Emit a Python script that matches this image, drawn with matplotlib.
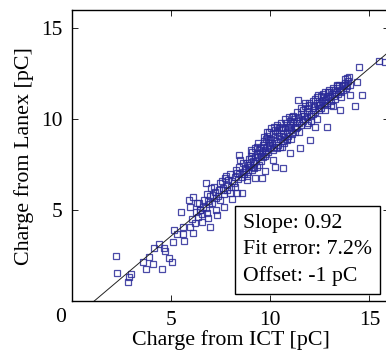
import numpy as np
import matplotlib
matplotlib.use("Agg")
import matplotlib.pyplot as plt
from matplotlib.patches import Rectangle

plt.rcParams['font.family'] = ['Liberation Serif', 'DejaVu Serif']

# points (ICT charge, Lanex charge) in pC
ict_sparse = [2.2, 2.27, 2.83, 2.86, 2.96, 3.59, 3.7, 3.89, 4.05, 4.12, 4.39, 4.54, 4.63, 4.7,
              4.88, 5.02, 5.14, 5.1, 5.27, 5.64, 5.57, 5.49, 5.57, 5.94, 6.11, 5.89, 6.08, 6.28,
              6.36, 6.45, 6.53, 6.65, 6.75, 6.82, 6.87, 6.95, 6.92, 7.12, 7.25, 7.32, 7.46, 7.6,
              7.66, 7.71, 7.88, 7.96, 8.08, 8.22, 8.3, 8.33, 8.43, 8.47, 8.55, 8.8, 8.89, 9.0,
              9.23, 9.31, 9.48, 9.56, 9.65, 9.73, 9.81, 9.9, 10.15, 10.24, 10.32, 10.62, 10.57,
              10.82, 10.91, 10.99, 11.08, 11.41, 11.5, 11.75, 11.92, 12.0, 12.26, 12.42, 12.76,
              12.84, 12.93, 13.18, 13.38, 13.52, 13.86, 14.02, 14.28, 14.36, 14.49, 14.61, 15.5,
              15.79]
lanex_sparse = [2.49, 1.54, 1.08, 1.36, 1.5, 2.18, 1.76, 2.42, 2.05, 2.91, 3.13, 1.76, 2.91, 2.78,
                2.4, 2.14, 3.92, 3.24, 3.68, 3.33, 3.7, 4.89, 4.1, 4.1, 3.74, 5.57, 5.71, 5.38,
                4.65, 5.02, 4.38, 5.57, 6.52, 4.84, 4.56, 4.1, 5.35, 5.84, 5.02, 4.74, 5.57, 6.12,
                5.2, 6.76, 6.67, 5.93, 5.6, 6.3, 7.03, 5.93, 8.04, 7.77, 5.93, 6.67, 7.49, 8.31,
                6.76, 7.4, 8.13, 6.76, 8.41, 7.18, 9.32, 8.86, 7.77, 7.4, 9.56, 7.31, 8.5,
                8.86, 9.6, 8.13, 10.15, 11.06, 8.41, 10.88, 9.78, 8.86, 9.6, 11.34, 11.06,
                9.6, 11.52, 10.7, 11.89, 10.51, 12.25, 11.34, 10.7, 12.07, 12.89, 11.34, 13.22,
                13.17]

# dense band along the fit line
ict_band = [6.03, 5.96, 6.22, 6.17, 6.43, 6.38, 6.61, 6.57, 6.84, 6.77, 6.81, 7.04, 6.97, 7.02,
            7.23, 7.16, 7.21, 7.43, 7.37, 7.45, 7.62, 7.55, 7.64, 7.83, 7.76, 7.81, 8.04, 7.97,
            8.02, 8.23, 8.16, 8.25, 8.41, 8.36, 8.44, 8.63, 8.57, 8.61, 8.72, 8.68, 8.83, 8.77,
            8.81, 8.92, 8.86, 8.94, 9.03, 8.97, 9.05, 9.01, 9.12, 9.07, 9.14, 9.22, 9.17, 9.24,
            9.19, 9.33, 9.27, 9.31, 9.42, 9.36, 9.44, 9.38, 9.52, 9.47, 9.55, 9.63, 9.57, 9.61,
            9.66, 9.73, 9.68, 9.75, 9.82, 9.77, 9.84, 9.79, 9.93, 9.87, 9.91, 10.02, 9.96, 10.05,
            9.99, 10.13, 10.07, 10.11, 10.16, 10.22, 10.17, 10.25, 10.33, 10.27, 10.31, 10.36,
            10.42, 10.37, 10.45, 10.53, 10.47, 10.55, 10.49, 10.62, 10.57, 10.65, 10.73, 10.67,
            10.75, 10.69, 10.83, 10.77, 10.85, 10.92, 10.87, 10.95, 11.03, 10.97, 11.05, 10.99,
            11.12, 11.07, 11.15, 11.22, 11.17, 11.25, 11.33, 11.27, 11.35, 11.42, 11.37, 11.45,
            11.53, 11.47, 11.55, 11.62, 11.57, 11.65, 11.72, 11.67, 11.75, 11.83, 11.77, 11.85,
            11.92, 11.87, 11.95, 12.03, 11.97, 12.05, 12.13, 12.07, 12.15, 12.22, 12.17, 12.25,
            12.33, 12.27, 12.35, 12.42, 12.37, 12.45, 12.53, 12.47, 12.55, 12.62, 12.57, 12.65,
            12.73, 12.67, 12.75, 12.82, 12.77, 12.85, 12.93, 12.87, 12.95, 13.02, 12.97, 13.05,
            13.13, 13.07, 13.15, 13.22, 13.17, 13.33, 13.27, 13.35, 13.42, 13.37, 13.53, 13.47,
            13.55, 13.62, 13.57, 13.73, 13.67, 13.75, 13.82, 13.77, 13.93, 13.87, 14.03, 13.97]
lanex_band = [4.5, 5.2, 4.9, 4.3, 5.0, 5.4, 5.2, 4.8, 5.5, 5.1, 5.9, 5.4, 5.8, 6.2,
              5.7, 6.3, 6.0, 6.1, 5.8, 6.5, 6.2, 6.6, 5.9, 6.4, 6.9, 6.1, 6.6, 7.0,
              6.3, 6.8, 6.5, 7.2, 7.0, 6.7, 7.4, 7.1, 6.8, 7.6, 7.3, 7.0, 7.6, 7.2,
              6.9, 7.8, 7.1, 7.4, 8.0, 7.5, 7.2, 7.8, 7.4, 8.2, 7.7, 7.9, 7.6, 8.4,
              7.3, 8.1, 7.7, 8.5, 8.3, 7.9, 7.5, 8.7, 8.0, 8.4, 7.7, 8.6, 8.2, 7.9,
              9.0, 8.3, 8.8, 8.0, 8.5, 8.1, 9.1, 8.9, 8.7, 8.2, 9.3, 8.9, 8.4, 9.5,
              8.6, 9.2, 8.7, 8.3, 9.6, 9.0, 8.5, 9.4, 9.3, 8.8, 8.4, 9.7,
              9.1, 8.6, 9.5, 9.4, 8.9, 9.8, 8.5, 9.2, 9.6, 8.8, 9.5, 9.0,
              10.0, 8.7, 9.3, 9.8, 8.9, 9.6, 9.1, 10.1, 9.4, 9.9, 8.9, 9.7,
              9.8, 9.2, 10.2, 9.6, 10.0, 9.3, 9.9, 9.5, 10.4, 10.1, 9.6, 9.3,
              10.3, 9.8, 10.6, 10.0, 9.7, 10.5, 10.2, 9.9, 10.7, 10.4, 10.0, 9.7,
              10.6, 10.1, 10.9, 10.3, 10.8, 9.9, 10.5, 10.2, 11.0, 10.7, 10.3, 11.1,
              10.9, 10.4, 10.0, 10.6, 11.2, 10.8, 10.8, 10.5, 11.3, 11.0, 10.6, 11.4,
              10.9, 11.2, 10.5, 11.1, 11.5, 10.8, 11.3, 10.9, 11.6, 11.2, 11.5, 10.8,
              11.4, 11.0, 11.7, 11.3, 11.6, 11.5, 11.1, 11.8, 11.4, 11.7, 11.6, 11.9,
              11.2, 11.8, 11.5, 11.9, 11.6, 12.2, 11.7, 12.0, 12.1, 11.8, 11.9, 12.3]

slope = 0.92
offset = -1.0
fit_x = [0, 16]

ict = ict_sparse + ict_band
lanex = lanex_sparse + lanex_band

fig = plt.figure(figsize=(3.86, 3.51), dpi=100)
ax = fig.add_axes([0.1875, 0.1416, 0.8207, 0.8299])

ax.plot(ict, lanex, 's', ms=5, mfc='none', mec='#2a2a98', mew=0.9, alpha=0.85)
ax.plot(fit_x, [slope * v + offset for v in fit_x], color='#222222', lw=0.7)

ax.set_xlim(0, 16)
ax.set_ylim(0, 16)
ax.set_xticks([5, 10, 15])
ax.set_yticks([5, 10, 15])
ax.tick_params(direction='in', length=4, width=0.6, top=True, right=True,
               labelsize=15.5, pad=7)
for s in ax.spines.values():
    s.set_linewidth(1.0)

ax.set_xlabel('Charge from ICT [pC]', fontsize=15.8, labelpad=0)
ax.set_ylabel('Charge from Lanex [pC]', fontsize=15.8, labelpad=5)
ax.text(-0.6, -0.9, '0', fontsize=15.5, ha='center', va='center', clip_on=False)

# stats box
ax.add_patch(Rectangle((8.22, 0.40), 7.31, 4.84, fill=False, ec='black', lw=1.0, zorder=5))
ax.text(8.62, 4.30, 'Slope: 0.92', fontsize=15.7, va='center', zorder=6)
ax.text(8.62, 2.87, 'Fit error: 7.2%', fontsize=15.7, va='center', zorder=6)
ax.text(8.62, 1.39, 'Offset: -1 pC', fontsize=15.7, va='center', zorder=6)

fig.savefig('out.png', dpi=100)
